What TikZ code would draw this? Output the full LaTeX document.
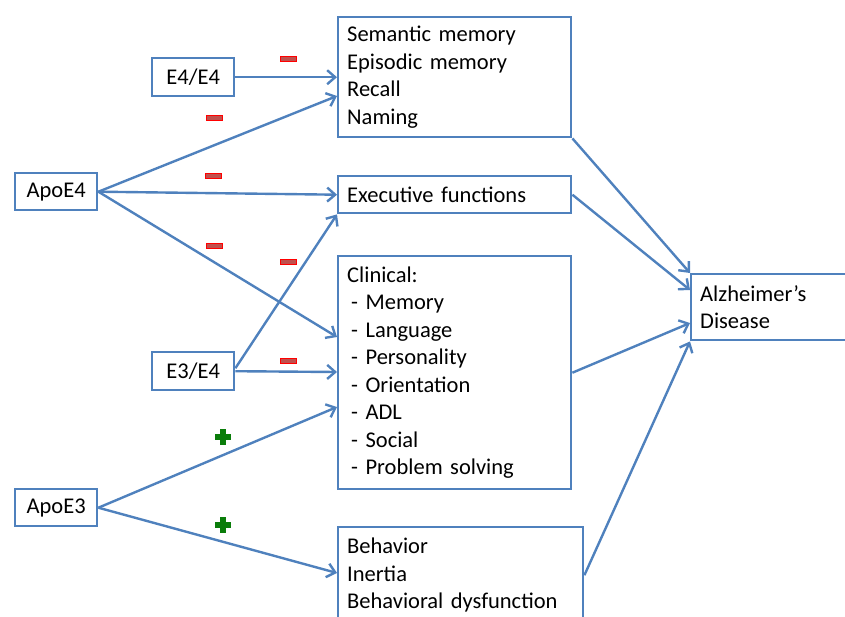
\documentclass[tikz,border=0pt]{standalone}
\usepackage{fontspec}
\setmainfont{Carlito}
\usetikzlibrary{arrows.meta,calc}
\definecolor{boxblue}{RGB}{79,129,189}
\definecolor{minusred}{RGB}{192,80,77}
\definecolor{plusgreen}{RGB}{10,125,10}
\begin{document}
\begin{tikzpicture}[x=1pt,y=-1pt,
  box/.style={draw=boxblue,line width=2.4pt,fill=white,inner xsep=9pt,inner ysep=0pt,
    align=left,font=\fontsize{22.5}{27.5}\selectfont,anchor=north west},
  small/.style={box,align=center,inner xsep=0pt,minimum width=82,minimum height=38},
  arr/.style={draw=boxblue,line width=2.4pt,-{Straight Barb[length=8pt,width=14pt,line width=2.4pt]}},
  minussign/.style={draw=red,fill=minusred,line width=0.6pt,minimum width=16,minimum height=5,inner sep=0pt},
  plussign/.pic={\fill[plusgreen] (-8,-2.8) rectangle (8,2.8); \fill[plusgreen] (-2.8,-8) rectangle (2.8,8);}
]
\useasboundingbox (0,0) rectangle (845,616);
\clip (0,0) rectangle (845,616);

% left nodes
\node[small] (e44) at (151,57) {E4/E4};
\node[small,minimum height=37] (apoe4) at (14,172) {ApoE4};
\node[small] (e34) at (151,351) {E3/E4};
\node[small,minimum height=37] (apoe3) at (14,488) {ApoE3};

% middle boxes
\node[box,text width=215,minimum height=120] (sem) at (337,16)
  {Semantic memory\\Episodic memory\\Recall\\Naming};
\node[box,text width=215,minimum height=37] (exe) at (337,175) {Executive functions};
\node[box,text width=215,minimum height=233] (clin) at (337,255)
  {Clinical:\\\hspace*{4pt}- Memory\\\hspace*{4pt}- Language\\\hspace*{4pt}- Personality\\\hspace*{4pt}- Orientation\\\hspace*{4pt}- ADL\\\hspace*{4pt}- Social\\\hspace*{4pt}- Problem solving};
\node[box,text width=227,minimum height=96] (beh) at (337,526)
  {Behavior\\Inertia\\Behavioral dysfunction};

% right box
\node[box,text width=152,minimum height=66] (alz) at (690,273) {Alzheimer’s\\Disease};

% connectors
\draw[arr] (e44.east) -- (sem.west |- e44.east);
\draw[arr] (apoe4.east) -- (sem.west |- 0,96);
\draw[arr] (apoe4.east) -- (exe.west);
\draw[arr] (apoe4.east) -- (clin.west |- 0,337);
\draw[arr] ([yshift=3pt]e34.east) -- (exe.south west);
\draw[arr] (e34.east) -- (clin.west |- 0,372);
\draw[arr] (apoe3.east) -- (clin.west |- 0,407);
\draw[arr] (apoe3.east) -- (beh.west |- 0,573);
\draw[arr] (sem.south east) -- (alz.north west);
\draw[arr] (exe.east) -- (alz.west |- 0,290);
\draw[arr] (clin.east) -- (alz.west |- 0,323);
\draw[arr] (beh.east) -- (alz.south west);

% signs
\node[minussign] (m1) at (288,59) {};
\node[minussign] (m2) at (214,118) {};
\node[minussign] (m3) at (213,176) {};
\node[minussign] (m4) at (214,246) {};
\node[minussign] (m5) at (288,262) {};
\node[minussign] (m6) at (288,361) {};
\pic at (223,437) {plussign};
\pic at (223,525) {plussign};
\end{tikzpicture}
\end{document}
